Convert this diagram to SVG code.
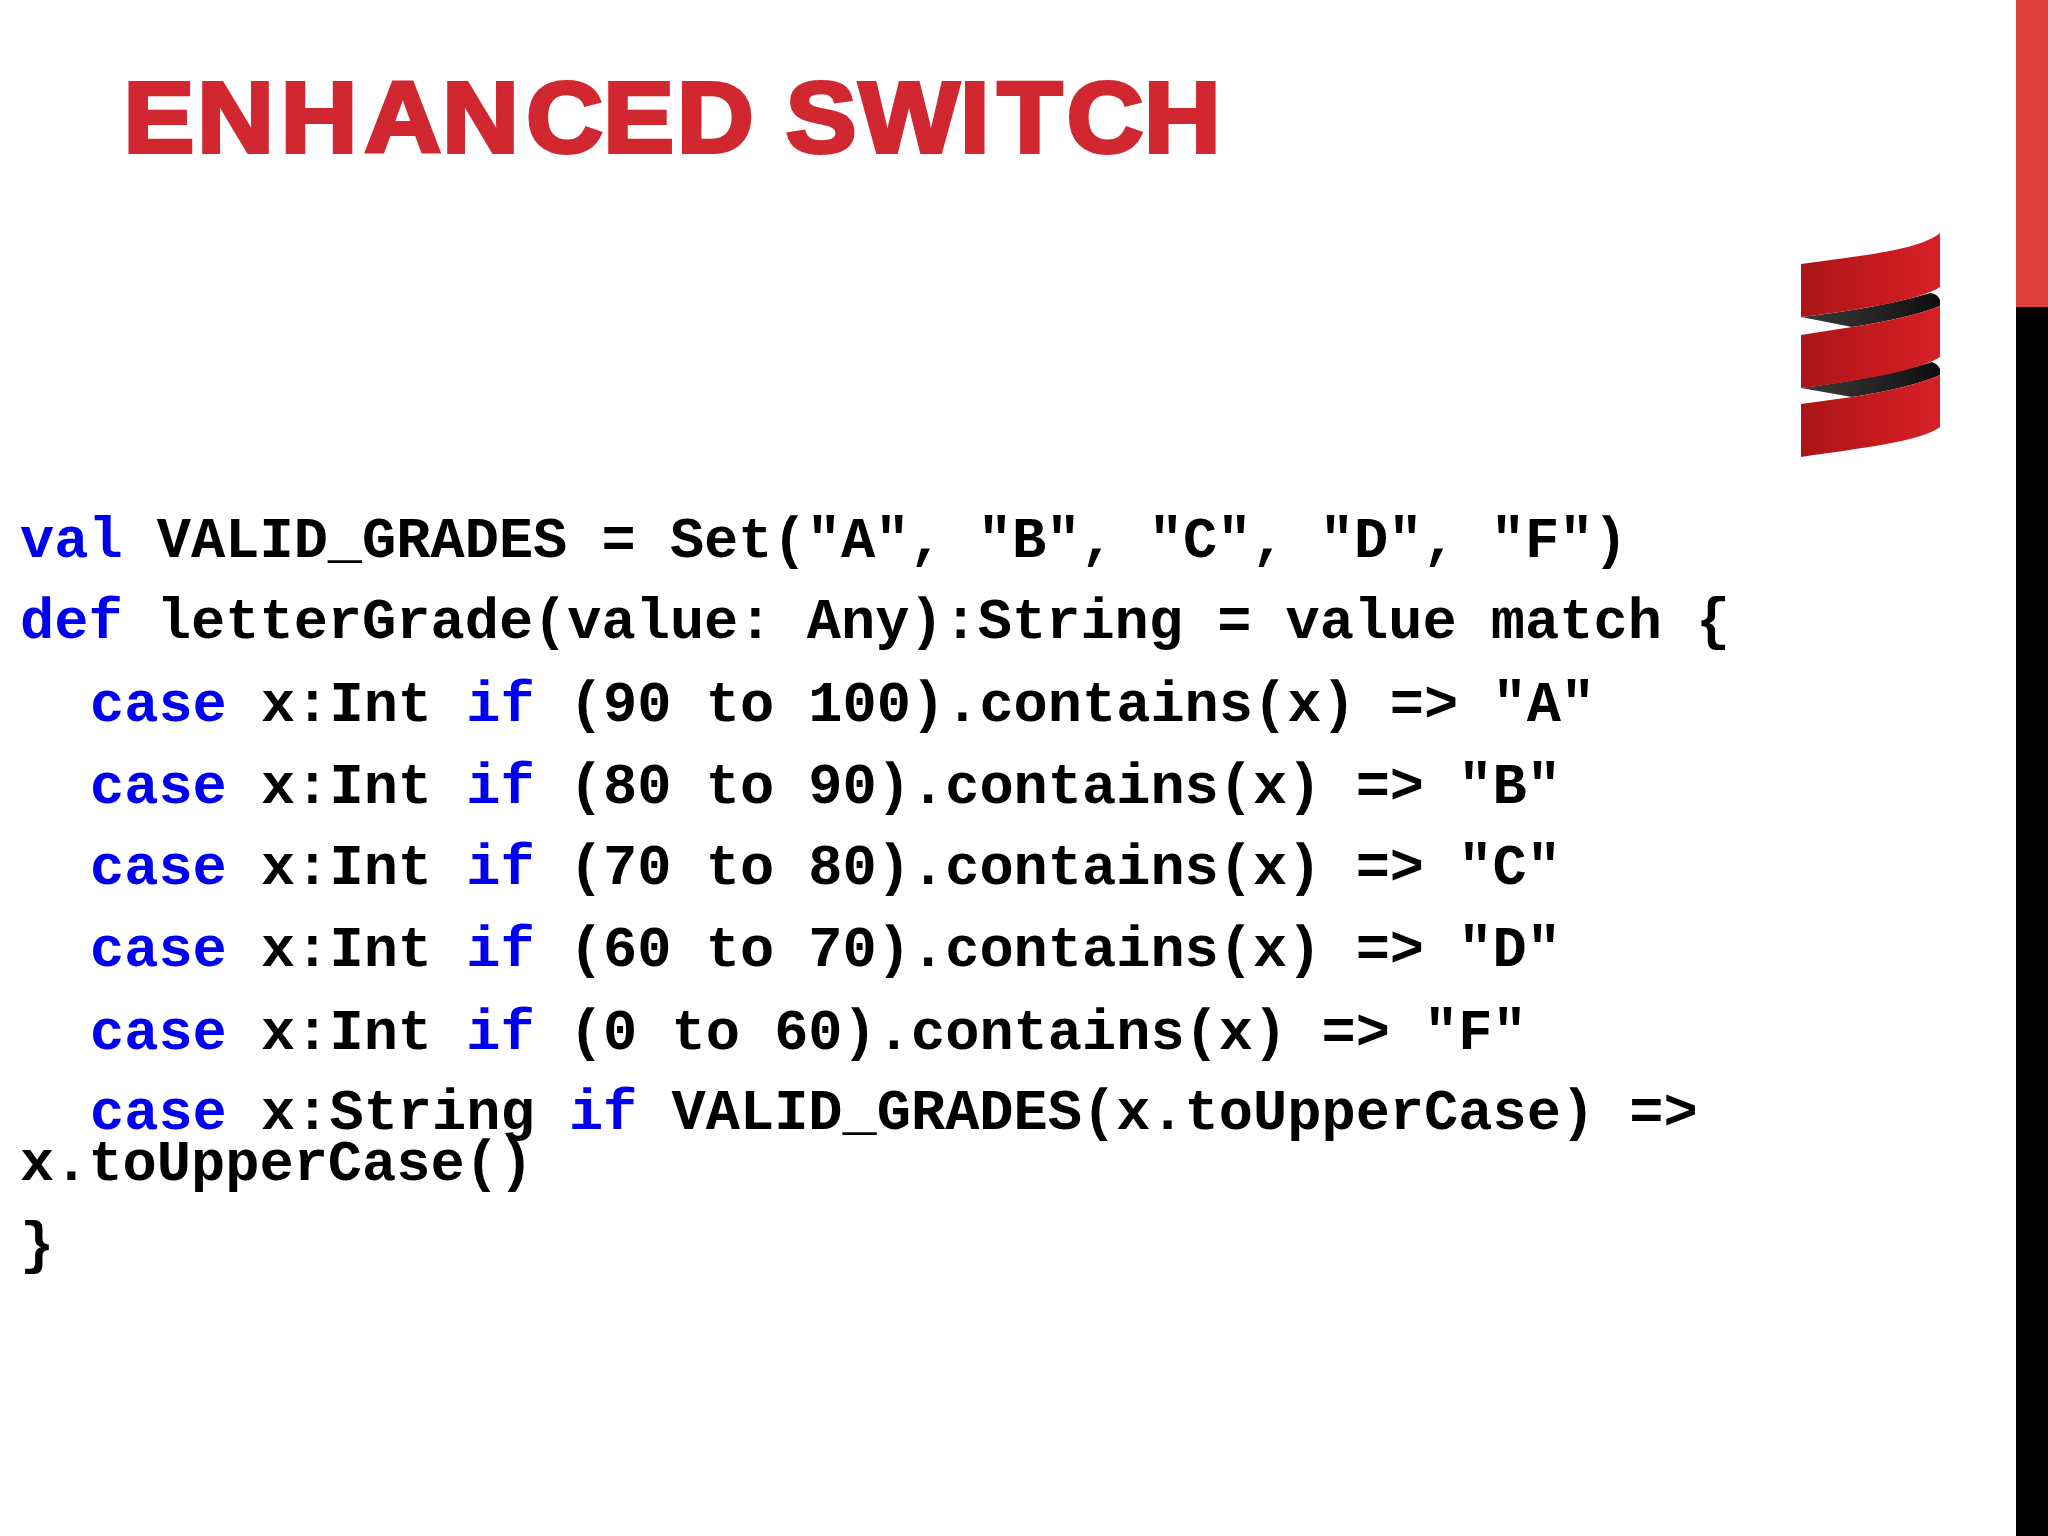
<svg xmlns="http://www.w3.org/2000/svg" width="2048" height="1536" viewBox="0 0 2048 1536">
<defs>
<linearGradient id="r" gradientUnits="userSpaceOnUse" x1="1801" x2="1940" y1="0" y2="0"><stop offset="0" stop-color="#a91518"/><stop offset="0.5" stop-color="#c41a1e"/><stop offset="1" stop-color="#d62027"/></linearGradient>
<linearGradient id="k" gradientUnits="userSpaceOnUse" x1="1801" x2="1940" y1="0" y2="0"><stop offset="0" stop-color="#3a3a3a"/><stop offset="0.6" stop-color="#222"/><stop offset="1" stop-color="#0c0c0c"/></linearGradient>
</defs>
<style>
.c{font-family:"Liberation Mono",monospace;font-weight:700;font-size:57px;fill:#000;white-space:pre}
.k{fill:#0000f0}
</style>
<rect width="2048" height="1536" fill="#fff"/>
<rect x="2016" y="0" width="32" height="307" fill="#e04040"/>
<rect x="2016" y="307" width="32" height="1229" fill="#000"/>
<text transform="translate(0,152) scale(1.05,1)" x="117.7 187.9 267.5 347.2 421.1 501.1 574.6 644.7 700 748.4 818.1 914.3 950.1 1016 1089.6" y="0" font-family="Liberation Sans,sans-serif" font-weight="700" font-size="101" fill="#d02731" stroke="#d02731" stroke-width="4" stroke-linejoin="miter">ENHANCED SWITCH</text>
<g id="logo">
<path d="M1801 317L1852 327Q1910 318 1940 306V300Q1938 294 1930 293Q1880 308 1801 317Z" fill="url(#k)"/>
<path d="M1801 388L1852 397Q1910 388 1940 375V369Q1938 364 1932 362Q1880 378 1801 388Z" fill="url(#k)"/>
<path d="M1801 264C1860 256 1920 250 1940 233V287C1920 300 1860 310 1801 317Z" fill="url(#r)"/>
<path d="M1801 335L1852 327Q1910 318 1940 306V357C1920 370 1860 381 1801 388Z" fill="url(#r)"/>
<path d="M1801 404L1852 397Q1910 388 1940 375V427C1920 442 1860 448 1801 457Z" fill="url(#r)"/>
</g>
<g id="code">
<text class="c" x="20" y="557"><tspan class="k">val</tspan> VALID_GRADES = Set("A", "B", "C", "D", "F")</text>
<text class="c" x="20" y="638"><tspan class="k">def</tspan> letterGrade(value: Any):String = value match {</text>
<text class="c" x="90" y="721"><tspan class="k">case</tspan> x:Int <tspan class="k">if</tspan> (90 to 100).contains(x) => "A"</text>
<text class="c" x="90" y="803"><tspan class="k">case</tspan> x:Int <tspan class="k">if</tspan> (80 to 90).contains(x) => "B"</text>
<text class="c" x="90" y="884"><tspan class="k">case</tspan> x:Int <tspan class="k">if</tspan> (70 to 80).contains(x) => "C"</text>
<text class="c" x="90" y="966"><tspan class="k">case</tspan> x:Int <tspan class="k">if</tspan> (60 to 70).contains(x) => "D"</text>
<text class="c" x="90" y="1049"><tspan class="k">case</tspan> x:Int <tspan class="k">if</tspan> (0 to 60).contains(x) => "F"</text>
<text class="c" x="90" y="1129"><tspan class="k">case</tspan> x:String <tspan class="k">if</tspan> VALID_GRADES(x.toUpperCase) =></text>
<text class="c" x="20" y="1180">x.toUpperCase()</text>
<text class="c" x="20" y="1262">}</text>
</g>
</svg>
